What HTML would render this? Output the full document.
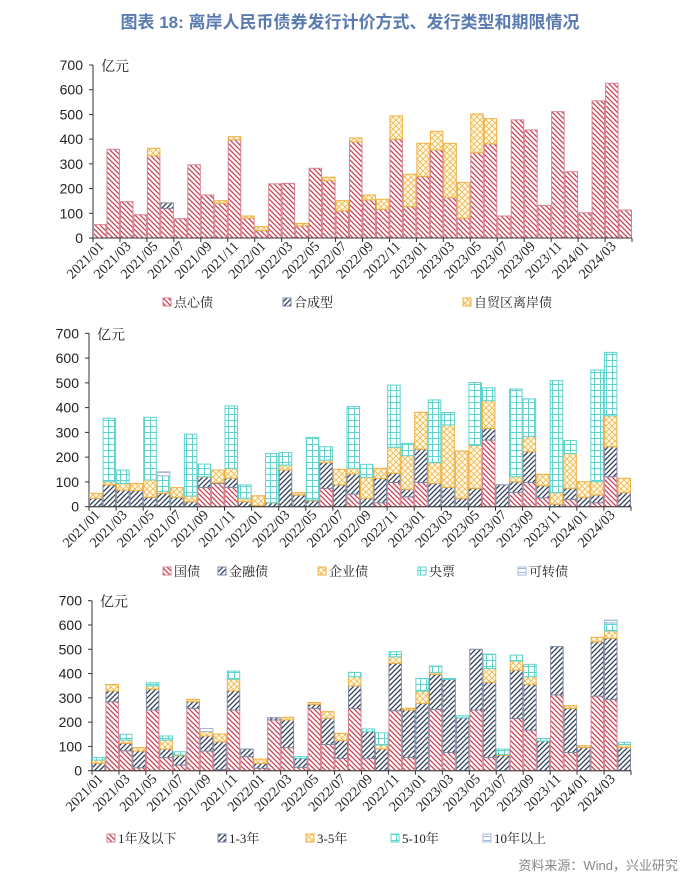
<!DOCTYPE html>
<html><head><meta charset="utf-8">
<style>
html,body{margin:0;padding:0;background:#fff;}
body{width:700px;height:881px;overflow:hidden;position:relative;font-family:"Liberation Serif","Noto Serif CJK SC",serif;}
#title{position:absolute;left:0;top:8px;width:700px;text-align:center;font:bold 17px "Liberation Sans","Noto Sans CJK SC",sans-serif;color:#5a7bb0;}
#src{position:absolute;right:22px;top:855px;font:13px "Liberation Sans","Noto Sans CJK SC",sans-serif;color:#888;}
svg{position:absolute;left:0;top:0;}
</style></head>
<body>
<div id="title">图表 18: 离岸人民币债券发行计价方式、发行类型和期限情况</div>
<svg id="svg" width="700" height="881">
<defs>
<pattern id="pRed" patternUnits="userSpaceOnUse" width="5" height="5"><rect width="5" height="5" fill="#fff"/><path d="M0,0L5,5M-1,4L1,6M4,-1L6,1" stroke="#c43a4e" stroke-width="1.2"/></pattern>
<pattern id="pNavy" patternUnits="userSpaceOnUse" width="5" height="5"><rect width="5" height="5" fill="#fff"/><path d="M0,5L5,0M-1,1L1,-1M4,6L6,4" stroke="#2d3c58" stroke-width="1.3"/></pattern>
<pattern id="pOrange" patternUnits="userSpaceOnUse" width="6" height="6"><rect width="6" height="6" fill="#fff8e6"/><path d="M0,0L6,6M0,6L6,0" stroke="#f0b84a" stroke-width="0.8"/></pattern>
<pattern id="pCyan" patternUnits="userSpaceOnUse" width="6" height="6"><rect width="6" height="6" fill="#fff"/><path d="M0,0.5H6M0.5,0V6" stroke="#5fd3cd" stroke-width="1"/></pattern>
<pattern id="pLight" patternUnits="userSpaceOnUse" width="4" height="4"><rect width="4" height="4" fill="#fff"/><path d="M0,0.5H4" stroke="#a3b8d8" stroke-width="1"/></pattern>
</defs>
</svg>
<div id="src">资料来源：Wind，兴业研究</div>
<script>
const months = [];
for (let y = 2021; y <= 2024; y++) for (let m = 1; m <= 12; m++) { if (y === 2024 && m > 4) break; months.push(y + "/" + String(m).padStart(2, "0")); }
const yTicks = [0,100,200,300,400,500,600,700];

// Chart 1
const c1Dim = [54,359,147,94,332,120,78,296,174,140,397,80,30,219,221,49,282,232,110,389,154,116,400,127,249,356,163,80,345,381,89,478,437,132,511,268,102,555,626,113];
const c1Syn = [0,0,0,0,0,22,0,0,0,0,0,0,0,0,0,0,0,0,0,0,0,0,0,0,0,0,0,0,0,0,0,0,0,0,0,0,0,0,0,0];
const c1Ftz = [0,0,0,0,31,0,0,0,0,11,13,9,16,0,0,10,0,14,41,16,20,41,94,131,134,76,220,145,157,102,0,0,0,0,0,0,0,0,0,0];

// Chart 2
const c2Gov = [0,0,0,0,0,0,0,0,78,94,78,0,0,0,0,0,0,74,0,51,0,16,98,40,98,0,0,0,0,269,0,58,98,36,0,30,0,16,121,0];
const c2Fin = [34,88,67,65,38,54,38,20,42,3,37,20,5,15,148,47,24,104,88,81,34,98,37,30,134,94,78,34,74,47,88,43,124,49,10,44,38,31,121,57];
const c2Corp = [20,13,27,29,70,8,39,23,1,51,40,14,39,1,20,10,3,10,63,23,85,41,105,136,149,84,252,191,174,112,0,20,61,46,47,141,63,54,125,58];
const c2Cb = [0,256,54,0,253,63,0,250,51,0,252,54,0,199,51,0,253,54,0,249,52,0,251,50,0,253,50,0,253,52,0,354,152,0,452,52,0,451,256,0];
const c2Conv = [0,0,0,0,0,16,0,0,0,0,0,0,0,0,0,0,0,0,0,0,0,0,0,0,0,0,0,0,0,0,0,0,0,0,0,0,0,0,0,0];

// Chart 3
const c3Y1 = [0,284,82,12,250,54,23,257,81,5,250,58,10,209,95,14,257,108,51,257,51,0,247,55,0,253,75,0,250,55,0,215,167,0,312,75,0,307,294,0];
const c3Y3 = [30,44,31,69,86,35,39,27,62,114,79,31,20,9,114,37,16,108,73,92,110,89,195,195,277,144,301,218,250,309,64,199,188,122,199,182,96,224,251,96];
const c3Y5 = [14,27,13,14,13,37,3,10,18,32,48,0,18,0,11,0,8,27,30,38,0,17,27,7,51,8,0,0,0,57,3,38,32,0,0,11,7,18,31,12];
const c3Y10 = [10,0,24,0,13,17,13,0,0,0,33,0,0,0,0,7,0,0,0,18,11,50,21,0,52,26,4,8,0,59,22,24,51,11,0,0,0,0,33,9];
const c3Y10p = [0,0,0,0,0,0,0,0,13,0,0,0,0,0,0,0,0,0,0,0,0,0,0,0,0,0,0,0,0,0,0,0,0,0,0,0,0,0,11,0];

const NS = "http://www.w3.org/2000/svg";
const svg = document.getElementById("svg");
function mk(tag, attrs, parent) { const e = document.createElementNS(NS, tag); for (const k in attrs) e.setAttribute(k, attrs[k]); (parent || svg).appendChild(e); return e; }

function drawChart(cfg) {
  const g = mk("g", {});
  
  
  const n = months.length;
  const bw = (cfg.x1 - cfg.x0) / n;
  const yS = v => cfg.y0 - v * (cfg.y0 - cfg.yt) / 700;
  const xS = i => cfg.x0 + i * bw;
  const ya = mk("line", {x1: cfg.x0, y1: cfg.y0, x2: cfg.x0, y2: cfg.yt, stroke: "#333", "stroke-width": 1}, g);
  
  
  yTicks.forEach(t => {
    mk("line", {x1: cfg.x0 - 4, y1: yS(t), x2: cfg.x0, y2: yS(t), stroke: "#333"}, g);
    const tl = mk("text", {x: cfg.x0 - 10, y: yS(t) + 5, "text-anchor": "end", "font-size": 14, fill: "#222", "font-family": "Liberation Sans, sans-serif"}, g);
    tl.textContent = t;
    
    
  });
  const unit = mk("text", {x: cfg.x0 + 8, y: cfg.yt + 6, "font-size": 14, fill: "#222"}, g);
  unit.textContent = "亿元";
  
  
  for (let i = 0; i < n; i++) {
    let acc = 0;
    cfg.series.forEach(s => {
      const v = s.data[i];
      if (v > 0) {
        const r = mk("rect", {x: xS(i) + 0.5, y: yS(acc + v), width: bw - 1, height: yS(acc) - yS(acc + v), fill: "url(#" + s.pat + ")", stroke: s.stroke, "stroke-width": 1}, g);
        
        
      }
      acc += v;
    });
  }
  const xa = mk("line", {x1: cfg.x0, y1: cfg.y0, x2: cfg.x1, y2: cfg.y0, stroke: "#333", "stroke-width": 1}, g);
  
  
  for (let i = 0; i <= n; i += 2) mk("line", {x1: xS(i), y1: cfg.y0, x2: xS(i), y2: cfg.y0 + 4, stroke: "#333"}, g);
  mk("line", {x1: cfg.x1, y1: cfg.y0, x2: cfg.x1, y2: cfg.y0 + 4, stroke: "#333"}, g);
  for (let i = 0; i < n; i += 2) {
    const cx = xS(i) + bw / 2 + 5, cy = cfg.y0 + 9;
    const t = mk("text", {x: cx, y: cy, "text-anchor": "end", "font-size": 14, fill: "#222", transform: "rotate(-45 " + cx + " " + cy + ")"}, g);
    t.textContent = months[i];
    
    
  }
  cfg.series.forEach((s, k) => {
    const lx = cfg.legX[k], ly = cfg.legY;
    const sw = mk("rect", {x: lx, y: ly - 9, width: 8, height: 8, fill: "url(#" + s.pat + ")", stroke: s.stroke, "stroke-width": 1}, g);
    
    
    const lt = mk("text", {x: lx + 11, y: ly, "font-size": 13, fill: "#222"}, g);
    lt.textContent = s.label;
    
    
  });
}

const RED = {pat: "pRed", stroke: "#d8808e"}, NAVY = {pat: "pNavy", stroke: "#7d8aa3"}, ORG = {pat: "pOrange", stroke: "#f0b040"}, CY = {pat: "pCyan", stroke: "#5fd3cd"}, LB = {pat: "pLight", stroke: "#a3b8d8"};

drawChart({name: "chart-pricing", x0: 93, x1: 632, y0: 238, yt: 65, legY: 307, legX: [163, 283, 463],
  series: [
    Object.assign({key: "dim-sum", label: "点心债", data: c1Dim}, RED),
    Object.assign({key: "synthetic", label: "合成型", data: c1Syn}, NAVY),
    Object.assign({key: "ftz", label: "自贸区离岸债", data: c1Ftz}, ORG)
  ]});
drawChart({name: "chart-type", x0: 89, x1: 631, y0: 506.7, yt: 333.3, legY: 576, legX: [163, 218, 318, 418, 518],
  series: [
    Object.assign({key: "gov", label: "国债", data: c2Gov}, RED),
    Object.assign({key: "financial", label: "金融债", data: c2Fin}, NAVY),
    Object.assign({key: "corporate", label: "企业债", data: c2Corp}, ORG),
    Object.assign({key: "central-bank", label: "央票", data: c2Cb}, CY),
    Object.assign({key: "convertible", label: "可转债", data: c2Conv}, LB)
  ]});
drawChart({name: "chart-tenor", x0: 92, x1: 631, y0: 770.7, yt: 600.7, legY: 843, legX: [107, 218, 306, 391, 483],
  series: [
    Object.assign({key: "1y-below", label: "1年及以下", data: c3Y1}, RED),
    Object.assign({key: "1-3y", label: "1-3年", data: c3Y3}, NAVY),
    Object.assign({key: "3-5y", label: "3-5年", data: c3Y5}, ORG),
    Object.assign({key: "5-10y", label: "5-10年", data: c3Y10}, CY),
    Object.assign({key: "10y-above", label: "10年以上", data: c3Y10p}, LB)
  ]});
</script>
</body></html>
